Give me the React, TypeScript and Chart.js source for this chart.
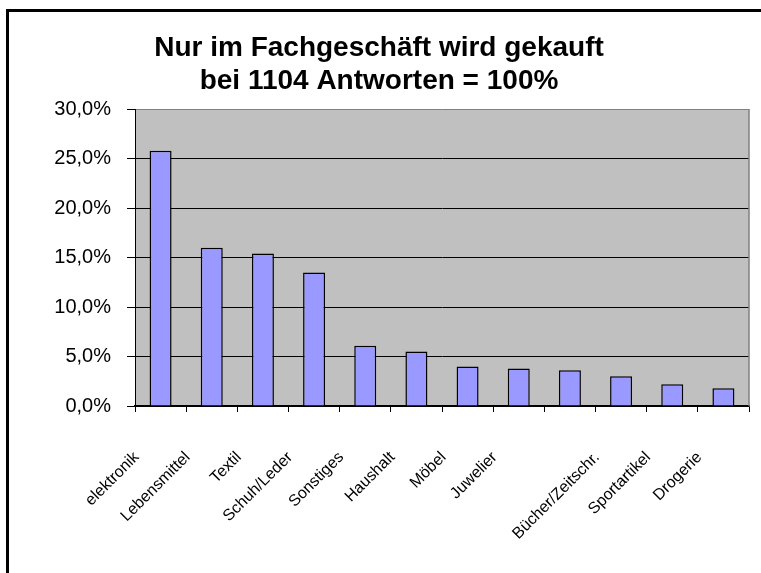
import React, { useEffect, useRef } from "react";
import { Chart, registerables } from "chart.js";

Chart.register(...registerables);

const titleLines = ["Nur im Fachgeschäft wird gekauft", "bei 1104 Antworten = 100%"];
const categories = [
  "elektronik",
  "Lebensmittel",
  "Textil",
  "Schuh/Leder",
  "Sonstiges",
  "Haushalt",
  "Möbel",
  "Juwelier",
  "",
  "Bücher/Zeitschr.",
  "Sportartikel",
  "Drogerie",
];
const values = [25.8, 16.0, 15.4, 13.5, 6.1, 5.5, 4.0, 3.8, 3.6, 3.0, 2.2, 1.8];
const yMin = 0;
const yMax = 30;
const yStep = 5;

const FONT = "'Liberation Sans', Arial, sans-serif";

const plotBg = {
  id: "plotBg",
  beforeDraw(chart: any) {
    const { ctx, chartArea } = chart;
    if (!chartArea) return;
    ctx.save();
    ctx.fillStyle = "#C0C0C0";
    ctx.fillRect(chartArea.left, chartArea.top, chartArea.right - chartArea.left, chartArea.bottom - chartArea.top);
    ctx.restore();
  },
  afterDatasetsDraw(chart: any) {
    const { ctx, chartArea } = chart;
    ctx.save();
    ctx.strokeStyle = "#808080";
    ctx.lineWidth = 1.5;
    ctx.beginPath();
    ctx.moveTo(chartArea.right, chartArea.top);
    ctx.lineTo(chartArea.right, chartArea.bottom);
    ctx.stroke();
    ctx.restore();
  },
};

export default function App() {
  const ref = useRef<HTMLCanvasElement | null>(null);

  useEffect(() => {
    if (!ref.current) return;
    const chart = new Chart(ref.current, {
      type: "bar",
      data: {
        labels: categories,
        datasets: [
          {
            data: values,
            backgroundColor: "#9999FF",
            borderColor: "#000000",
            borderWidth: 1.5,
            barPercentage: 0.43,
            categoryPercentage: 1,
          },
        ],
      },
      options: {
        animation: false,
        responsive: false,
        maintainAspectRatio: false,
        layout: { padding: { left: 0, right: 14, top: 0, bottom: 0 } },
        plugins: {
          legend: { display: false },
          tooltip: { enabled: false },
          title: {
            display: true,
            text: titleLines,
            color: "#000",
            font: { family: FONT, size: 28, weight: "bold", lineHeight: 1.18 },
            padding: { top: 20, bottom: 11 },
          },
        },
        scales: {
          x: {
            afterFit: (scale: any) => {
              scale.height = 167;
              scale.paddingLeft = 0;
              scale.paddingRight = 0;
            },
            grid: {
              display: true,
              drawOnChartArea: false,
              drawTicks: true,
              tickLength: 6,
              color: "#000",
              offset: true,
            },
            border: { display: true, color: "#000", width: 1.5 },
            ticks: {
              autoSkip: false,
              maxRotation: 45,
              minRotation: 45,
              padding: 36,
              labelOffset: -24,
              color: "#000",
              font: { family: FONT, size: 16 },
            },
          },
          y: {
            min: yMin,
            max: yMax,
            afterFit: (scale: any) => {
              scale.width = 126;
            },
            grid: {
              color: (c: any) => (c.tick && c.tick.value === yMax ? "#808080" : "#000"),
              tickColor: "#000",
              tickLength: 8,
              lineWidth: 1,
            },
            border: { display: true, color: "#000", width: 1 },
            ticks: {
              stepSize: yStep,
              padding: 16,
              color: "#000",
              font: { family: FONT, size: 20 },
              callback: (v: any) => Number(v).toFixed(1).replace(".", ",") + "%",
            },
          },
        },
      },
      plugins: [plotBg],
    });
    return () => chart.destroy();
  }, []);

  return (
    <div style={{ position: "fixed", left: 0, top: 0, width: 761, height: 573, overflow: "hidden", background: "#fff" }}>
      <div
        style={{
          position: "absolute",
          left: 6,
          top: 9,
          width: 800,
          height: 700,
          borderLeft: "3px solid #000",
          borderTop: "3px solid #000",
          boxSizing: "border-box",
        }}
      />
      <canvas ref={ref} width={754} height={561} style={{ position: "absolute", left: 9, top: 12, width: 754, height: 561 }} />
    </div>
  );
}
